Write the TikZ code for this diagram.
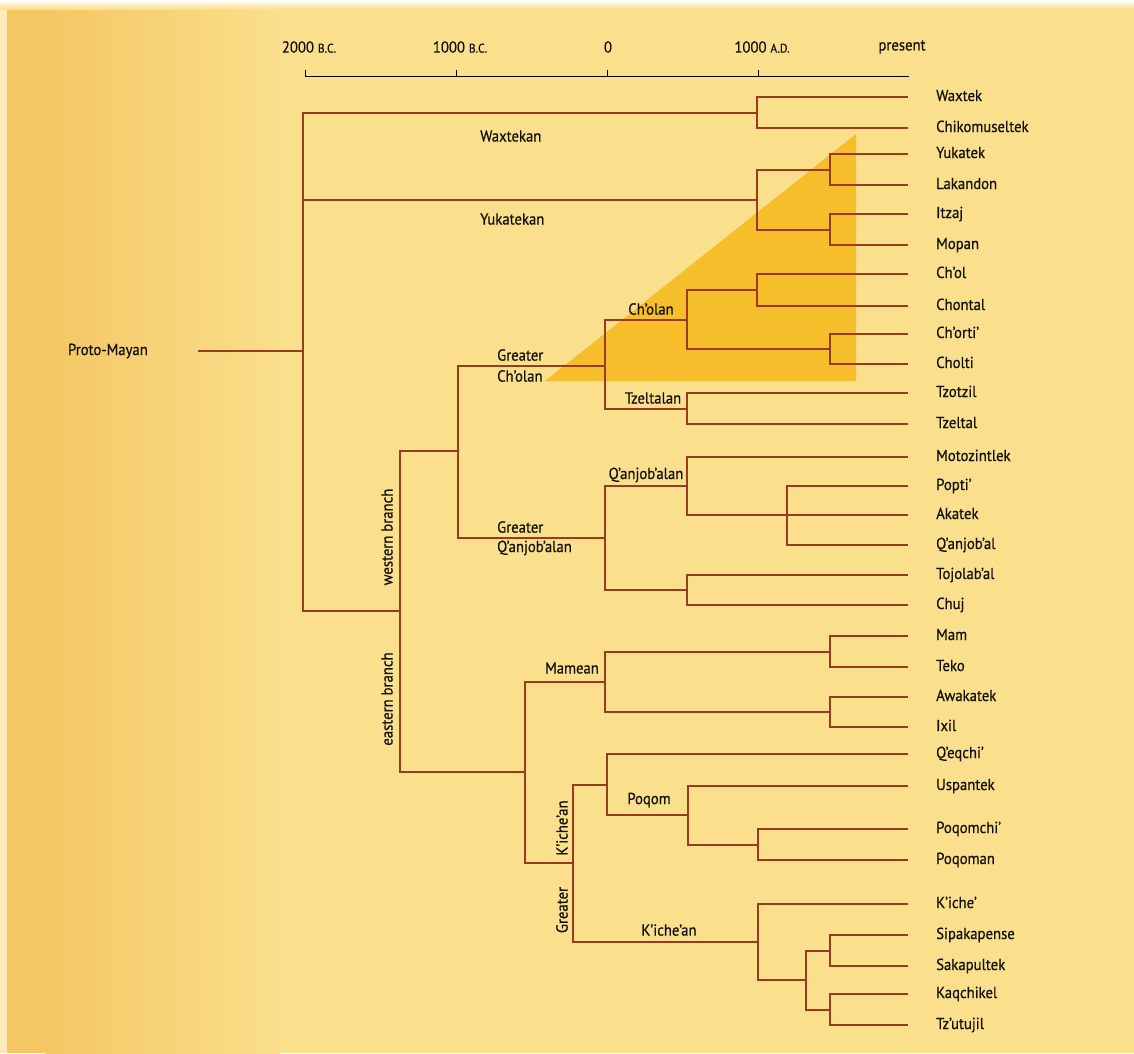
\documentclass[tikz,border=0pt]{standalone}
\usepackage{fontspec}
\setmainfont[FakeStretch=0.92,FakeBold=0.6]{PT Sans}
\usetikzlibrary{calc}
\definecolor{bg}{HTML}{FADF8C}
\definecolor{bgl}{HTML}{F4C763}
\definecolor{brc}{HTML}{9A3B1F}
\definecolor{tri}{HTML}{F6BE2A}
\definecolor{txt}{HTML}{14110D}
\newcommand{\lab}{\fontsize{16}{18}\selectfont}
\newcommand{\smc}[1]{{\fontsize{12.5}{13}\selectfont #1}}
\begin{document}
\begin{tikzpicture}[x=1pt,y=-1pt,
  br/.style={draw=brc,line width=1.5pt},
  leaf/.style={anchor=west,inner sep=0pt,font=\lab,text=txt,text height=11pt,text depth=3pt},
  grp/.style={inner sep=0pt,font=\lab,text=txt},
  grpl/.style={inner sep=0pt,font=\lab,text=txt,anchor=west},
  tim/.style={inner sep=0pt,font=\lab,text=txt}]
% background
\fill[bg] (0,0) rectangle (1134,1053);
\fill[bgl] (7,0) rectangle (45,1053);
\shade[left color=bgl,right color=bg] (45,0) rectangle (280,1053);
\fill[bg!60!white] (0,0) rectangle (7,1053);
\shade[top color=white,bottom color=bg] (0,0) rectangle (1134,9);
% highlight triangle
\fill[tri] (545,381) -- (856,381) -- (856,134) -- cycle;
% time axis
\node[tim] (t1) at (309,47) {2000 \smc{B.C.}};
\node[tim] (t2) at (460,47) {1000 \smc{B.C.}};
\node[tim] (t3) at (608,47) {0};
\node[tim] (t4) at (762,47) {1000 \smc{A.D.}};
\node[tim] (t5) at (902,47) {present};
\draw[black,line width=1pt] (305,76) -- (909,76);
\foreach \x in {305,456,607,758} \draw[black,line width=1pt] (\x,70) -- (\x,76);
% leaves
\foreach \n/\y/\t in {waxtek/97/Waxtek, chiko/128/Chikomuseltek, yukatek/154/Yukatek,
  lakandon/185/Lakandon, itzaj/214/Itzaj, mopan/245/Mopan, chol/274/Ch’ol,
  chontal/306/Chontal, chorti/334/Ch’orti’, cholti/364/Cholti, tzotzil/393/Tzotzil,
  tzeltal/424/Tzeltal, motoz/457/Motozintlek, popti/486/Popti’, akatek/515/Akatek,
  qanjobal/545/Q’anjob’al, tojol/575/Tojolab’al, chuj/605/Chuj, mam/636/Mam,
  teko/667/Teko, awakatek/697/Awakatek, ixil/727/Ixil, qeqchi/754/Q’eqchi’,
  uspantek/786/Uspantek, poqomchi/829/Poqomchi’, poqoman/860/Poqoman,
  kiche/904/K’iche’, sipa/935/Sipakapense, saka/966/Sakapultek, kaq/994/Kaqchikel,
  tzutujil/1025/Tz’utujil}
  \node[leaf] (\n) at (936,\y) {\t};
% root
\node[grp,anchor=east] (proto) at (148,351) {Proto-Mayan};
\coordinate (r) at (303,351);
\coordinate (jWax) at (757,113);
\coordinate (jYuk) at (757,200);
\coordinate (jYL) at (830,170);
\coordinate (jIM) at (830,230);
\coordinate (jWE) at (400,611);
\coordinate (jW) at (458,451);
\coordinate (jGC) at (605,366);
\coordinate (jCh) at (687,320);
\coordinate (jCC) at (757,290);
\coordinate (jCO) at (830,349);
\coordinate (jTz) at (687,409);
\coordinate (jGQ) at (605,538);
\coordinate (jQ) at (687,486);
\coordinate (jPAQ) at (787,515);
\coordinate (jTC) at (687,590);
\coordinate (jE) at (525,772);
\coordinate (jMam) at (605,682);
\coordinate (jMT) at (830,652);
\coordinate (jAI) at (830,712);
\coordinate (jGK) at (573,863);
\coordinate (jUp) at (607,785);
\coordinate (jPoq) at (688,815);
\coordinate (jPP) at (758,845);
\coordinate (jK) at (758,942);
\coordinate (jSK) at (806,980);
\coordinate (jSS) at (830,951);
\coordinate (jKT) at (830,1010);
% connectors
\draw[br] ([xshift=50pt]proto.east) -- (r);
\draw[br] (r) |- (jWax);
\draw[br] (r) |- (jYuk);
\draw[br] (r) |- (jWE);
\draw[br] (jWax) |- ([xshift=-28pt]waxtek.west);
\draw[br] (jWax) |- ([xshift=-28pt]chiko.west);
\draw[br] (jYuk) |- (jYL);
\draw[br] (jYuk) |- (jIM);
\draw[br] (jYL) |- ([xshift=-28pt]yukatek.west);
\draw[br] (jYL) |- ([xshift=-28pt]lakandon.west);
\draw[br] (jIM) |- ([xshift=-28pt]itzaj.west);
\draw[br] (jIM) |- ([xshift=-28pt]mopan.west);
\draw[br] (jWE) |- (jW);
\draw[br] (jWE) |- (jE);
\draw[br] (jW) |- (jGC);
\draw[br] (jW) |- (jGQ);
\draw[br] (jGC) |- (jCh);
\draw[br] (jGC) |- (jTz);
\draw[br] (jCh) |- (jCC);
\draw[br] (jCh) |- (jCO);
\draw[br] (jCC) |- ([xshift=-28pt]chol.west);
\draw[br] (jCC) |- ([xshift=-28pt]chontal.west);
\draw[br] (jCO) |- ([xshift=-28pt]chorti.west);
\draw[br] (jCO) |- ([xshift=-28pt]cholti.west);
\draw[br] (jTz) |- ([xshift=-28pt]tzotzil.west);
\draw[br] (jTz) |- ([xshift=-28pt]tzeltal.west);
\draw[br] (jGQ) |- (jQ);
\draw[br] (jGQ) |- (jTC);
\draw[br] (jQ) |- ([xshift=-28pt]motoz.west);
\draw[br] (jQ) |- (jPAQ);
\draw[br] (jPAQ) |- ([xshift=-28pt]popti.west);
\draw[br] (jPAQ) |- ([xshift=-28pt]akatek.west);
\draw[br] (jPAQ) |- ([xshift=-28pt]qanjobal.west);
\draw[br] (jTC) |- ([xshift=-28pt]tojol.west);
\draw[br] (jTC) |- ([xshift=-28pt]chuj.west);
\draw[br] (jE) |- (jMam);
\draw[br] (jE) |- (jGK);
\draw[br] (jMam) |- (jMT);
\draw[br] (jMam) |- (jAI);
\draw[br] (jMT) |- ([xshift=-28pt]mam.west);
\draw[br] (jMT) |- ([xshift=-28pt]teko.west);
\draw[br] (jAI) |- ([xshift=-28pt]awakatek.west);
\draw[br] (jAI) |- ([xshift=-28pt]ixil.west);
\draw[br] (jGK) |- (jUp);
\draw[br] (jGK) |- (jK);
\draw[br] (jUp) |- ([xshift=-28pt]qeqchi.west);
\draw[br] (jUp) |- (jPoq);
\draw[br] (jPoq) |- ([xshift=-28pt]uspantek.west);
\draw[br] (jPoq) |- (jPP);
\draw[br] (jPP) |- ([xshift=-28pt]poqomchi.west);
\draw[br] (jPP) |- ([xshift=-28pt]poqoman.west);
\draw[br] (jK) |- ([xshift=-28pt]kiche.west);
\draw[br] (jK) |- (jSK);
\draw[br] (jSK) |- (jSS);
\draw[br] (jSK) |- (jKT);
\draw[br] (jSS) |- ([xshift=-28pt]sipa.west);
\draw[br] (jSS) |- ([xshift=-28pt]saka.west);
\draw[br] (jKT) |- ([xshift=-28pt]kaq.west);
\draw[br] (jKT) |- ([xshift=-28pt]tzutujil.west);
% group labels
\node[grpl] (lWax) at (480,136) {Waxtekan};
\node[grpl] (lYuk) at (480,219) {Yukatekan};
\node[grpl] (lGC1) at (497,355) {Greater};
\node[grpl] (lGC2) at (497,376) {Ch’olan};
\node[grp] (lCh) at (651,309) {Ch’olan};
\node[grp] (lTz) at (653,398) {Tzeltalan};
\node[grpl] (lGQ1) at (497,527) {Greater};
\node[grpl] (lGQ2) at (497,548) {Q’anjob’alan};
\node[grp] (lQ) at (646,475) {Q’anjob’alan};
\node[grp] (lMam) at (572,668) {Mamean};
\node[grp] (lPoq) at (649,800) {Poqom};
\node[grp] (lK) at (669,930) {K’iche’an};
\node[grp,rotate=90] (lWest) at (387,537) {western branch};
\node[grp,rotate=90] (lEast) at (387,699) {eastern branch};
\node[grp,rotate=90] (lGK1) at (562,828) {K’iche’an};
\node[grp,rotate=90] (lGK2) at (562,910) {Greater};
\end{tikzpicture}
\end{document}
